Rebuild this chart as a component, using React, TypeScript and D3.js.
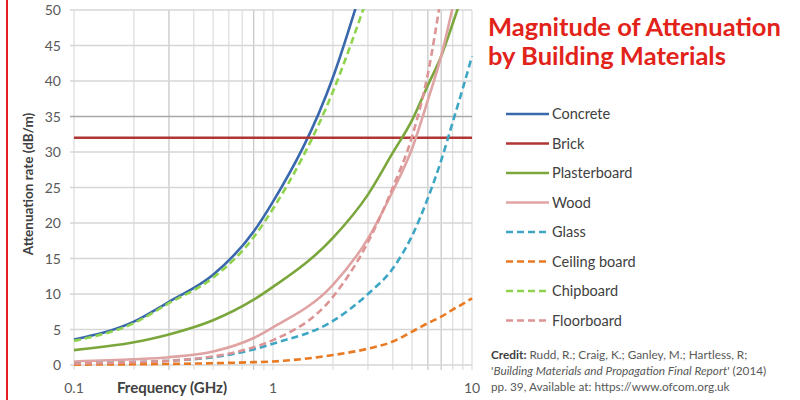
import React from "react";
import * as d3 from "d3";

const freqs = [0.1, 0.2, 0.3, 0.5, 0.8, 1, 2, 3, 4, 5, 6, 7, 8, 9, 10];
const concrete = [3.6, 6.1, 8.9, 12.7, 18.8, 23, 40.5, 56, null, null, null, null, null, null, null];
const brick = [32, 32, 32, 32, 32, 32, 32, 32, 32, 32, 32, 32, 32, 32, 32];
const plasterboard = [2.1, 3.2, 4.3, 6.3, 9.2, 11, 17.9, 24, 29.9, 34.5, 39.4, 43.5, 48.1, 52.3, 56];
const wood = [0.5, 0.8, 1.1, 1.9, 3.8, 5.3, 11.3, 17.8, 24.5, 30.5, 37.3, 43.5, 50.4, 57, 64];
const glass = [0.2, 0.4, 0.6, 1.1, 2.2, 3.0, 6.2, 10, 13.6, 18.2, 23.5, 28.8, 34.2, 39, 43.5];
const ceilingBoard = [0.05, 0.1, 0.15, 0.25, 0.4, 0.5, 1.4, 2.3, 3.3, 4.7, 5.9, 6.8, 7.8, 8.6, 9.4];
const chipboard = [3.4, 5.9, 8.7, 12.3, 18.0, 22, 38.5, 52, null, null, null, null, null, null, null];
const floorboard = [0.2, 0.4, 0.6, 1.2, 2.5, 3.5, 9.6, 17.3, 25, 32.2, 41, 52, null, null, null];

const seriesNames = ["Concrete", "Brick", "Plasterboard", "Wood", "Glass", "Ceiling board", "Chipboard", "Floorboard"];
const seriesValues = [concrete, brick, plasterboard, wood, glass, ceilingBoard, chipboard, floorboard];
const seriesColors = ["#3a68ad", "#b03535", "#7ba63c", "#e0a3a3", "#3ea6c4", "#ea7a22", "#8fd34c", "#dc9494"];
const seriesDashed = [false, false, false, false, true, true, true, true];

const yTicks = [0, 5, 10, 15, 20, 25, 30, 35, 40, 45, 50];
const xTickLabels = [0.1, 1, 10];
const xGrid = [0.1, 0.2, 0.3, 0.4, 0.5, 0.6, 0.7, 0.8, 0.9, 1, 2, 3, 4, 5, 6, 7, 8, 9, 10];
const darkX = [0.3, 0.8, 6, 7];

const FONT = "Lato, 'Open Sans', sans-serif";

export default function App() {
  const x = d3.scaleLog().domain([0.1, 10]).range([74, 472]);
  const y = d3.scaleLinear().domain([0, 50]).range([365, 10]);

  const line = d3
    .line<number | null>()
    .defined((d) => d !== null)
    .x((_, i) => x(freqs[i]))
    .y((d) => y(d as number))
    .curve(d3.curveMonotoneX);

  return (
    <svg
      width={800}
      height={400}
      style={{ position: "absolute", left: 0, top: 0, background: "#fff" }}
      fontFamily={FONT}
    >
      <defs>
        <clipPath id="plot">
          <rect x={70} y={y(50) - 1} width={406} height={y(0) - y(50) + 2} />
        </clipPath>
      </defs>
      <rect x={0} y={0} width={800} height={400} fill="#fff" />
      <line x1={7} x2={7} y1={0} y2={400} stroke="#e31e24" strokeWidth={2} />

      {/* grid */}
      {xGrid.map((f) => (
        <line
          key={"vx" + f}
          x1={x(f)}
          x2={x(f)}
          y1={y(50)}
          y2={y(0) + 5}
          stroke={darkX.includes(f) ? "#c4c4c4" : "#dcdcdc"}
          strokeWidth={1.2}
        />
      ))}
      {yTicks.map((v) => (
        <line
          key={"hy" + v}
          x1={70}
          x2={x(10)}
          y1={y(v)}
          y2={y(v)}
          stroke={v === 35 ? "#a8a8a8" : "#d6d6d6"}
          strokeWidth={1.3}
        />
      ))}

      {/* y tick labels */}
      {yTicks.map((v) => (
        <text key={"yl" + v} x={61} y={y(v) + 5} textAnchor="end" fontSize={14} fill="#595959">
          {v}
        </text>
      ))}
      {/* x tick labels */}
      {xTickLabels.map((f) => (
        <text key={"xl" + f} x={x(f)} y={393} textAnchor="middle" fontSize={14} fill="#595959">
          {f}
        </text>
      ))}
      <text x={172} y={393} textAnchor="middle" fontSize={15} fontWeight="bold" fill="#404040">
        Frequency (GHz)
      </text>
      <text
        transform="translate(33,184) rotate(-90)"
        textAnchor="middle"
        fontSize={13.5}
        fontWeight="bold"
        fill="#404040"
      >
        Attenuation rate (dB/m)
      </text>

      {/* series */}
      <g clipPath="url(#plot)">
        {seriesValues.map((vals, i) => (
          <path
            key={seriesNames[i]}
            d={line(vals) || ""}
            fill="none"
            stroke={seriesColors[i]}
            strokeWidth={2.6}
            strokeDasharray={seriesDashed[i] ? "7,4" : undefined}
          />
        ))}
      </g>

      {/* legend */}
      {seriesNames.map((name, i) => {
        const ly = 114 + i * 29.5;
        return (
          <g key={"lg" + name}>
            <line
              x1={506}
              x2={549}
              y1={ly}
              y2={ly}
              stroke={seriesColors[i]}
              strokeWidth={2.6}
              strokeDasharray={seriesDashed[i] ? "7,4" : undefined}
            />
            <text x={552} y={ly + 5} fontSize={14.5} fill="#404040">
              {name}
            </text>
          </g>
        );
      })}

      {/* title */}
      <text x={488} y={36} fontSize={25.5} fontWeight="bold" fill="#e2231a">
        Magnitude of Attenuation
      </text>
      <text x={488} y={64.5} fontSize={25.5} fontWeight="bold" fill="#e2231a">
        by Building Materials
      </text>

      {/* credit */}
      <text x={491} y={359} fontSize={11.8} fill="#595959">
        <tspan fontWeight="bold" fill="#404040">Credit:</tspan> Rudd, R.; Craig, K.; Ganley, M.; Hartless, R;
      </text>
      <text x={491} y={375} fontSize={11.8} fill="#595959">
        '<tspan fontStyle="italic">Building Materials and Propagation Final Report</tspan>' (2014)
      </text>
      <text x={491} y={390.5} fontSize={11.8} fill="#595959">
        pp. 39, Available at: https://www.ofcom.org.uk
      </text>
    </svg>
  );
}
